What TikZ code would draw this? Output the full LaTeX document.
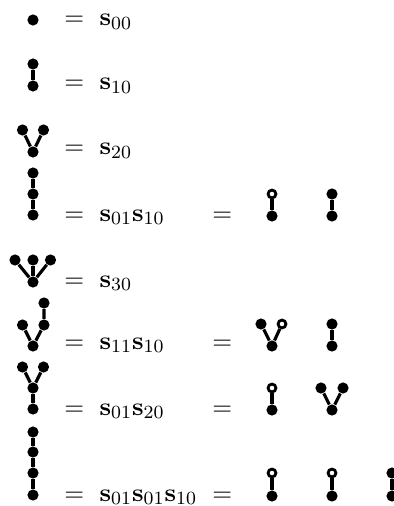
\documentclass[tikz,border=0pt]{standalone}
\begin{document}
\begin{tikzpicture}[x=0.43pt,y=-0.43pt,
  dot/.style={circle,fill=black,inner sep=0pt,minimum size=4.8pt},
  odot/.style={circle,draw=black,fill=white,line width=1.2pt,inner sep=0pt,minimum size=3.4pt},
  edge/.style={line width=1.35pt},
  eq/.style={anchor=base west,inner sep=0pt,font=\fontsize{11}{13}\selectfont}]
\useasboundingbox (0,0) rectangle (394,506);
% row 1
\node[dot] (a1) at (33,20) {};
\node[eq] (t1) at (64,26) {$=$\hspace{6.6pt}$\mathbf{s}_{00}$};
% row 2
\node[dot] (b1) at (33,64) {};
\node[dot] (b2) at (33,86) {};
\draw[edge] (b1) -- (b2);
\node[eq] (t2) at (64,90) {$=$\hspace{6.6pt}$\mathbf{s}_{10}$};
% row 3
\node[dot] (c1) at (22.5,130) {};
\node[dot] (c2) at (43.5,130) {};
\node[dot] (c3) at (33,152) {};
\draw[edge] (c1) -- (c3) -- (c2);
\node[eq] (t3) at (64,155) {$=$\hspace{6.6pt}$\mathbf{s}_{20}$};
% row 4
\node[dot] (d1) at (33,173) {};
\node[dot] (d2) at (33,194) {};
\node[dot] (d3) at (33,215) {};
\draw[edge] (d1) -- (d2) -- (d3);
\node[eq] (t4) at (64,221) {$=$\hspace{6.6pt}$\mathbf{s}_{01}\mathbf{s}_{10}$};
\node[eq] (u4) at (212,221) {$=$};
\node[odot] (e1) at (272,194) {};
\node[dot] (e2) at (272,216) {};
\draw[edge] (e1) -- (e2);
\node[dot] (f1) at (332,194) {};
\node[dot] (f2) at (332,216) {};
\draw[edge] (f1) -- (f2);
% row 5
\node[dot] (g1) at (15,260) {};
\node[dot] (g2) at (33,260) {};
\node[dot] (g3) at (50.5,260) {};
\node[dot] (g4) at (33,282) {};
\draw[edge] (g1) -- (g4) -- (g3);
\draw[edge] (g2) -- (g4);
\node[eq] (t5) at (64,287) {$=$\hspace{6.6pt}$\mathbf{s}_{30}$};
% row 6
\node[dot] (h1) at (44,303) {};
\node[dot] (h2) at (44,325) {};
\node[dot] (h3) at (22.5,325) {};
\node[dot] (h4) at (33,346) {};
\draw[edge] (h1) -- (h2) -- (h4) -- (h3);
\node[eq] (t6) at (64,349) {$=$\hspace{6.6pt}$\mathbf{s}_{11}\mathbf{s}_{10}$};
\node[eq] (u6) at (212,349) {$=$};
\node[dot] (i1) at (261,324) {};
\node[odot] (i2) at (282,324) {};
\node[dot] (i3) at (272,346) {};
\draw[edge] (i1) -- (i3) -- (i2);
\node[dot] (j1) at (332,324) {};
\node[dot] (j2) at (332,346) {};
\draw[edge] (j1) -- (j2);
% row 7
\node[dot] (k1) at (22.5,367) {};
\node[dot] (k2) at (43.5,367) {};
\node[dot] (k3) at (33,388) {};
\node[dot] (k4) at (33,409) {};
\draw[edge] (k1) -- (k3) -- (k2);
\draw[edge] (k3) -- (k4);
\node[eq] (t7) at (64,415) {$=$\hspace{6.6pt}$\mathbf{s}_{01}\mathbf{s}_{20}$};
\node[eq] (u7) at (212,415) {$=$};
\node[odot] (l1) at (272,388) {};
\node[dot] (l2) at (272,410) {};
\draw[edge] (l1) -- (l2);
\node[dot] (m1) at (321,388) {};
\node[dot] (m2) at (343,388) {};
\node[dot] (m3) at (332,410) {};
\draw[edge] (m1) -- (m3) -- (m2);
% row 8
\node[dot] (n1) at (33,432) {};
\node[dot] (n2) at (33,452) {};
\node[dot] (n3) at (33,473) {};
\node[dot] (n4) at (33,495) {};
\draw[edge] (n1) -- (n2) -- (n3) -- (n4);
\node[eq] (t8) at (64,501) {$=$\hspace{6.6pt}$\mathbf{s}_{01}\mathbf{s}_{01}\mathbf{s}_{10}$};
\node[eq] (u8) at (212,501) {$=$};
\node[odot] (o1) at (272,473) {};
\node[dot] (o2) at (272,496) {};
\draw[edge] (o1) -- (o2);
\node[odot] (p1) at (332,473) {};
\node[dot] (p2) at (332,496) {};
\draw[edge] (p1) -- (p2);
\node[dot] (q1) at (392,473) {};
\node[dot] (q2) at (392,496) {};
\draw[edge] (q1) -- (q2);
\end{tikzpicture}
\end{document}
